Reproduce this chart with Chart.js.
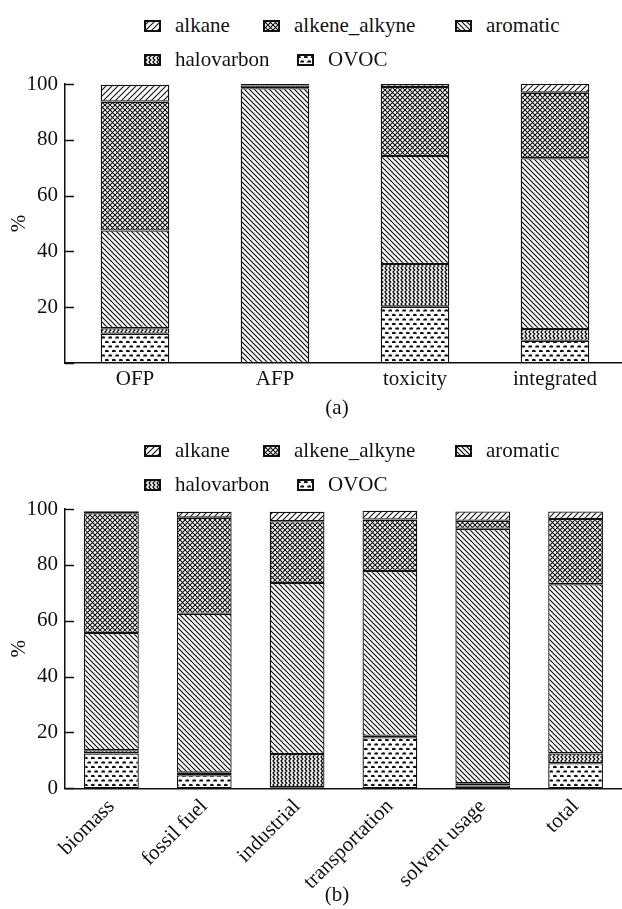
<!DOCTYPE html>
<html>
<head>
<meta charset="utf-8">
<script src="https://cdn.jsdelivr.net/npm/chart.js@4.4.1/dist/chart.umd.min.js"></script>
<style>
  body { margin: 0; width: 622px; height: 909px; overflow: hidden; background: #fff; position: relative;
         font-family: 'Liberation Serif', 'Times New Roman', serif; color: #111; }
  .wrap { position: absolute; left: 0; }
  .leg { position: absolute; font-size: 21px; line-height: 24px; white-space: nowrap; }
  .leg canvas { position: absolute; left: 0; top: 7px; }
  .leg span { position: absolute; left: 31px; top: 0; }
  .cap { position: absolute; font-size: 21px; transform: translate(-50%, -50%); }
</style>
</head>
<body>

<div class="wrap" style="top:60px"><canvas id="chartA" width="625" height="340"></canvas></div>
<div class="wrap" style="top:485px"><canvas id="chartB" width="622" height="410"></canvas></div>
<div class="cap" style="left:337px;top:407px">(a)</div>
<div class="cap" style="left:337px;top:894px">(b)</div>

<script>
// categorias e grupos
const catsA = ['OFP', 'AFP', 'toxicity', 'integrated'];
const catsB = ['biomass', 'fossil fuel', 'industrial', 'transportation', 'solvent usage', 'total'];
const groups = ['alkane', 'alkene_alkyne', 'aromatic', 'halovarbon', 'OVOC'];
const yTicks = [0, 20, 40, 60, 80, 100];

// (a) percentuais
const alkaneA = [6.0, 0.5, 1.1, 3.1];
const alkeneA = [46.2, 1.0, 24.7, 23.5];
const aromaticA = [35.0, 98.5, 38.7, 61.2];
const haloA = [2.0, 0, 15.3, 4.2];
const ovocA = [10.5, 0, 20.2, 8.0];

// (b) percentuais
const alkaneB = [0.7, 2.1, 3.4, 3.2, 3.3, 2.7];
const alkeneB = [42.9, 34.4, 22.1, 18.4, 2.9, 23.3];
const aromaticB = [42.0, 56.9, 61.2, 59.0, 91.1, 60.6];
const haloB = [1.1, 0.9, 11.9, 0.5, 0.8, 3.5];
const ovocB = [12.5, 4.7, 0.4, 18.3, 1.0, 9.0];

const INK = '#111';
const FONT = { family: "'Liberation Serif', 'Times New Roman', serif", size: 21 };

// hachuras
function tile(w, h, draw) {
  const c = document.createElement('canvas');
  c.width = w; c.height = h;
  const g = c.getContext('2d');
  g.fillStyle = '#fff';
  g.fillRect(0, 0, w, h);
  g.strokeStyle = INK;
  g.fillStyle = INK;
  draw(g);
  return c;
}

const tiles = {
  alkane: tile(6, 6, g => {
    g.lineWidth = 1.1;
    g.beginPath();
    g.moveTo(-1, 7); g.lineTo(7, -1);
    g.moveTo(-1, 1); g.lineTo(1, -1);
    g.moveTo(5, 7); g.lineTo(7, 5);
    g.stroke();
  }),
  alkene_alkyne: tile(5, 5, g => {
    g.lineWidth = 1.15;
    g.beginPath();
    g.moveTo(-1, -1); g.lineTo(6, 6);
    g.moveTo(-1, 6); g.lineTo(6, -1);
    g.stroke();
  }),
  aromatic: tile(5, 5, g => {
    g.lineWidth = 1.2;
    g.beginPath();
    g.moveTo(-1, -1); g.lineTo(6, 6);
    g.moveTo(-1, 4); g.lineTo(1, 6);
    g.moveTo(4, -1); g.lineTo(6, 1);
    g.stroke();
  }),
  halovarbon: tile(4, 4, g => {
    g.lineWidth = 1.4;
    g.beginPath();
    g.moveTo(0.8, 0); g.lineTo(2.8, 2); g.lineTo(0.8, 4);
    g.stroke();
  }),
  OVOC: tile(7, 9, g => {
    g.beginPath(); g.arc(1.75, 4, 2.2, Math.PI, 0); g.fill();
    g.beginPath(); g.arc(5.25, 8.5, 2.2, Math.PI, 0); g.fill();
  })
};

function pattern(name) {
  const ctx = document.createElement('canvas').getContext('2d');
  return ctx.createPattern(tiles[name], 'repeat');
}

// marcas de escala para dentro do gráfico
const innerTicks = {
  id: 'innerTicks',
  afterDraw(chart) {
    const { ctx, chartArea } = chart;
    const y = chart.scales.y;
    ctx.save();
    ctx.strokeStyle = INK;
    ctx.lineWidth = 1.5;
    y.ticks.forEach(t => {
      const py = Math.round(y.getPixelForValue(t.value)) + 0.5;
      ctx.beginPath();
      ctx.moveTo(chartArea.left, py);
      ctx.lineTo(chartArea.left + 9, py);
      ctx.stroke();
    });
    ctx.restore();
  }
};

function desenhar(id, labels, series, barPct, rot, xHeight, hideZero) {
  // ordem de empilhamento: OVOC embaixo, alkane em cima
  const order = ['OVOC', 'halovarbon', 'aromatic', 'alkene_alkyne', 'alkane'];
  return new Chart(document.getElementById(id), {
    type: 'bar',
    data: {
      labels,
      datasets: order.map(k => ({
        label: k,
        data: series[k],
        backgroundColor: pattern(k),
        borderColor: INK,
        borderWidth: 1.3,
        borderSkipped: false,
        barPercentage: barPct,
        categoryPercentage: 1
      }))
    },
    options: {
      responsive: false,
      animation: false,
      layout: { padding: { top: 24, right: 0, bottom: 0, left: 0 } },
      plugins: { legend: { display: false }, tooltip: { enabled: false } },
      scales: {
        x: {
          stacked: true,
          grid: { display: false, drawTicks: false },
          border: { color: INK, width: 1.5 },
          ticks: { color: INK, font: FONT, padding: rot ? 6 : 4, autoSkip: false, minRotation: rot, maxRotation: rot },
          afterFit: s => { s.height = xHeight; }
        },
        y: {
          stacked: true,
          min: 0,
          max: 100,
          afterBuildTicks: s => { s.ticks = yTicks.map(v => ({ value: v })); },
          grid: { display: false, drawTicks: false },
          border: { color: INK, width: 1.5 },
          ticks: { color: INK, font: FONT, padding: 7, callback: v => (hideZero && v === 0 ? '' : v) },
          title: { display: true, text: '%', color: INK, font: FONT, padding: { top: 7, bottom: 0 } },
          afterFit: s => { s.width = 65; }
        }
      }
    },
    plugins: [innerTicks]
  });
}

desenhar('chartA', catsA, {
  alkane: alkaneA, alkene_alkyne: alkeneA, aromatic: aromaticA, halovarbon: haloA, OVOC: ovocA
}, 0.49, 0, 37, true);

desenhar('chartB', catsB, {
  alkane: alkaneB, alkene_alkyne: alkeneB, aromatic: aromaticB, halovarbon: haloB, OVOC: ovocB
}, 0.59, 45, 106.7, false);

// legendas (duas linhas, alinhadas à esquerda)
const legX = [144, 263, 455, 144, 297];
const legRow = [0, 0, 0, 1, 1];
function legenda(top) {
  groups.forEach((g, i) => {
    const item = document.createElement('div');
    item.className = 'leg';
    item.style.left = legX[i] + 'px';
    item.style.top = (top + legRow[i] * 34) + 'px';
    const sw = document.createElement('canvas');
    sw.width = 17; sw.height = 12;
    const c = sw.getContext('2d');
    c.fillStyle = pattern(g);
    c.fillRect(0, 0, 17, 12);
    c.strokeStyle = INK;
    c.lineWidth = 2;
    c.strokeRect(1, 1, 15, 10);
    const t = document.createElement('span');
    t.textContent = g;
    item.appendChild(sw);
    item.appendChild(t);
    document.body.appendChild(item);
  });
}
legenda(13);
legenda(438);
</script>
</body>
</html>
